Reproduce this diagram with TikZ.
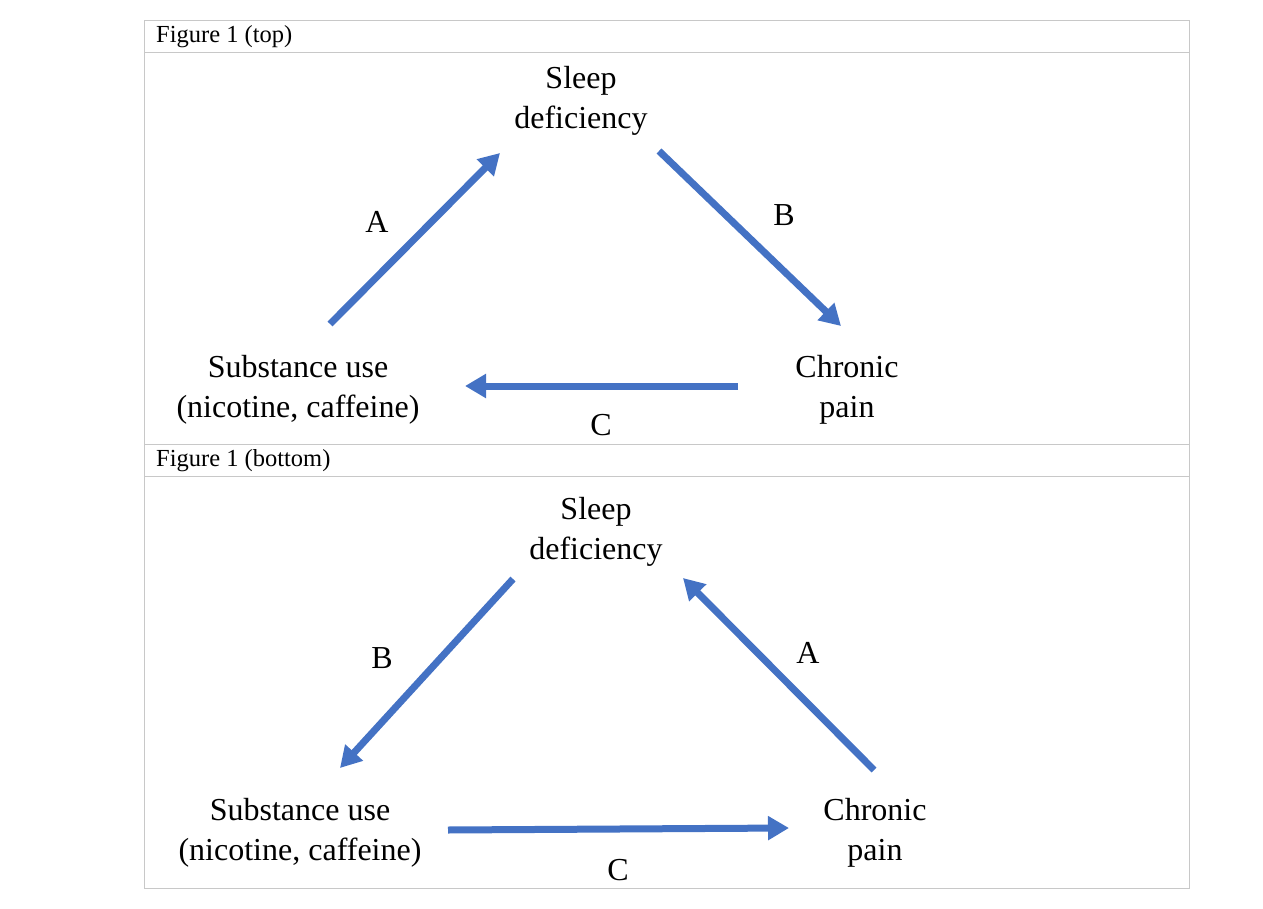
\documentclass[tikz,border=0pt]{standalone}
\usepackage{fontspec}
\setmainfont{Liberation Serif}
\usetikzlibrary{arrows.meta}
\definecolor{arrowblue}{RGB}{68,114,196}
\definecolor{framegray}{RGB}{200,200,200}
\tikzset{
  lbl/.style={align=center, font=\fontsize{32}{40}\selectfont, inner sep=0pt},
  letter/.style={font=\fontsize{32}{40}\selectfont, inner sep=0pt},
  head/.style={anchor=west, font=\fontsize{24.5}{28}\selectfont, inner sep=0pt},
  conn/.style={draw=arrowblue, line width=7pt, -{Triangle[length=21pt,width=23pt]}},
  frame/.style={draw=framegray, line width=1pt}
}
\begin{document}
\begin{tikzpicture}[x=1pt,y=-1pt]
\useasboundingbox (0,0) rectangle (1263,909);
% frame
\draw[frame] (144.5,20.5) rectangle (1189.5,888.5);
\draw[frame] (144.5,52.5) -- (1189.5,52.5);
\draw[frame] (144.5,444.5) -- (1189.5,444.5);
\draw[frame] (144.5,476.5) -- (1189.5,476.5);
\node[head] (h1) at (156,37) {Figure 1 (top)};
\node[head] (h2) at (156,461) {Figure 1 (bottom)};
% top panel
\node[lbl] (s1) at (581,101) {Sleep\\deficiency};
\node[lbl] (u1) at (298,390) {Substance use\\(nicotine, caffeine)};
\node[lbl] (p1) at (847,390) {Chronic\\pain};
\coordinate (a1s) at (330,324);
\coordinate (a1e) at (500,153);
\coordinate (b1s) at (659,151);
\coordinate (b1e) at (841,326);
\coordinate (c1s) at (738,386);
\coordinate (c1e) at (465,386);
\draw[conn] (a1s) -- (a1e);
\draw[conn] (b1s) -- (b1e);
\draw[conn] (c1s) -- (c1e);
\node[letter] (la1) at (377,222) {A};
\node[letter] (lb1) at (784,215) {B};
\node[letter] (lc1) at (601,425) {C};
% bottom panel
\node[lbl] (s2) at (596,532) {Sleep\\deficiency};
\node[lbl] (u2) at (300,833) {Substance use\\(nicotine, caffeine)};
\node[lbl] (p2) at (875,833) {Chronic\\pain};
\coordinate (b2s) at (513,579);
\coordinate (b2e) at (340,768);
\coordinate (a2s) at (874,770);
\coordinate (a2e) at (683,578);
\coordinate (c2s) at (448,830);
\coordinate (c2e) at (789,828);
\draw[conn] (b2s) -- (b2e);
\draw[conn] (a2s) -- (a2e);
\draw[conn] (c2s) -- (c2e);
\node[letter] (lb2) at (382,658) {B};
\node[letter] (la2) at (808,653) {A};
\node[letter] (lc2) at (618,870) {C};
\end{tikzpicture}
\end{document}
